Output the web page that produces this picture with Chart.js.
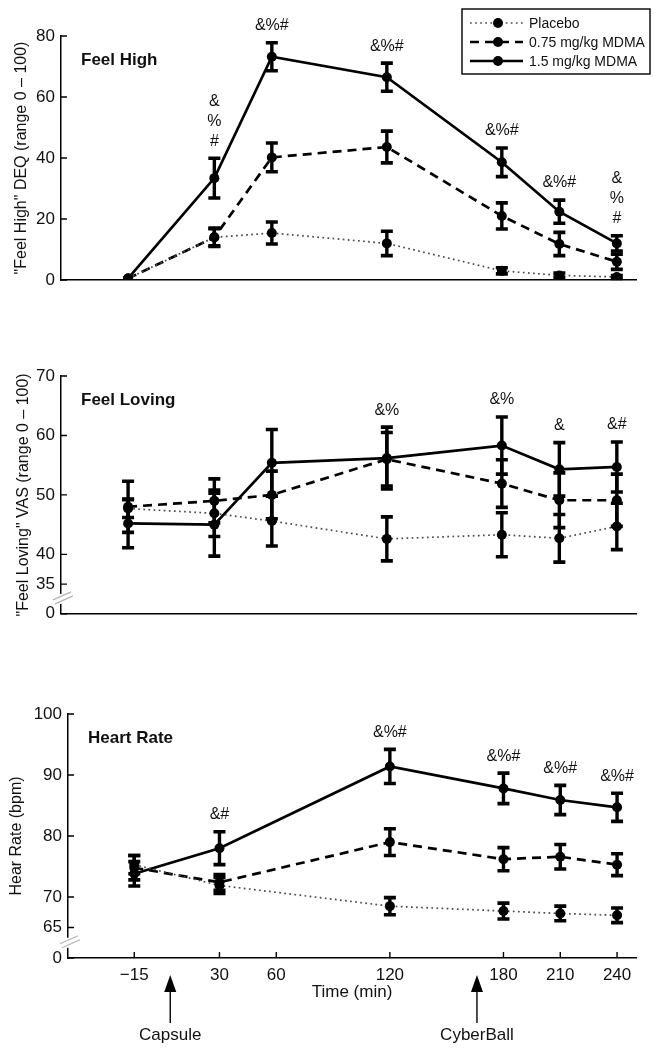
<!DOCTYPE html>
<html>
<head>
<meta charset="utf-8">
<script src="https://cdn.jsdelivr.net/npm/chart.js@4.4.0/dist/chart.umd.min.js"></script>
<style>
  body { margin: 0; background: #fff; }
  #wrap { position: relative; width: 659px; height: 1050px; }
  canvas { position: absolute; left: 0; }
</style>
</head>
<body>
<div id="wrap">
  <canvas id="highChart" width="659" height="300" style="top:0"></canvas>
  <canvas id="loveChart" width="659" height="300" style="top:330px"></canvas>
  <canvas id="hrChart" width="659" height="370" style="top:680px"></canvas>
</div>
<script>
// 측정 시점 (min)
const timesAll = [-15, 30, 60, 120, 180, 210, 240];
const timesHR = [-15, 30, 120, 180, 210, 240];
const xTickValues = [-15, 30, 60, 120, 180, 210, 240];
const groupNames = ['Placebo', '0.75 mg/kg MDMA', '1.5 mg/kg MDMA'];

// Feel High (DEQ)
const highPlacebo = [0.5, 14, 15.4, 12, 3, 1.5, 1];
const highPlaceboErr = [0, 3, 3.6, 4, 1, 0.8, 0.5];
const highLow = [0.5, 14, 40.2, 43.6, 21, 11.8, 6];
const highLowErr = [0, 2.8, 4.7, 5.2, 4.3, 3.8, 2.5];
const highHigh = [0.5, 33.4, 73.2, 66.5, 38.6, 22.4, 12];
const highHighErr = [0, 6.5, 4.6, 4.6, 4.7, 3.8, 2.5];
const highSig = ['', '&\n%\n#', '&%#', '&%#', '&%#', '&%#', '&\n%\n#'];
const highTicks = [0, 20, 40, 60, 80];

// Feel Loving (VAS)
const lovePlacebo = [47.7, 46.9, 45.6, 42.6, 43.3, 42.7, 44.7];
const lovePlaceboErr = [1.5, 3.9, 4.2, 3.7, 3.7, 4, 3.9];
const loveLow = [48, 49, 50, 56, 51.9, 49.1, 49.1];
const loveLowErr = [4.3, 3.7, 4, 4.5, 4, 4.6, 4.4];
const loveHigh = [45.2, 45, 55.4, 56.2, 58.3, 54.3, 54.7];
const loveHighErr = [4.1, 5.3, 5.6, 5.2, 4.8, 4.5, 4.2];
const loveSig = ['', '', '', '&%', '&%', '&', '&#'];
const loveTicks = [30, 35, 40, 50, 60, 70]; // 30 = 축 끊김 아래 "0"

// Heart Rate (bpm)
const hrPlacebo = [75.3, 71.9, 68.5, 67.7, 67.3, 67];
const hrPlaceboErr = [1.5, 1.3, 1.4, 1.3, 1.2, 1.2];
const hrLow = [74.8, 72.4, 79, 76.2, 76.6, 75.3];
const hrLowErr = [2, 1.3, 2.2, 1.9, 2, 1.8];
const hrHigh = [73.8, 78, 91.4, 87.8, 85.9, 84.7];
const hrHighErr = [2, 2.7, 2.8, 2.5, 2.4, 2.3];
const hrSig = ['', '&#', '&%#', '&%#', '&%#', '&%#'];
const hrTicks = [60, 65, 70, 80, 90, 100]; // 60 = 축 끊김 아래 "0"

// 이벤트 화살표 (x축 아래)
const eventLabels = ['Capsule', 'CyberBall'];
const eventTimes = [4, 166];

const FONT = '"Liberation Sans", Arial, Helvetica, sans-serif';
Chart.defaults.font.family = FONT;
Chart.defaults.color = '#111';

// 선 스타일 (placebo / 0.75 / 1.5)
const lineStyles = [
	{ borderColor: '#4a4a4a', borderWidth: 1.7, borderDash: [1.7, 3.4] },
	{ borderColor: '#000', borderWidth: 2.7, borderDash: [9, 6] },
	{ borderColor: '#000', borderWidth: 2.7, borderDash: [] },
];

function makeDatasets(times, series, errs) {
	return series.map((vals, k) => ({
		label: groupNames[k],
		data: vals.map((v, i) => ({ x: times[i], y: v })),
		errors: errs[k],
		...lineStyles[k],
		pointRadius: 5,
		pointBackgroundColor: '#000',
		pointBorderColor: '#000',
		pointBorderWidth: 0,
		tension: 0,
		fill: false,
	}));
}

// 에러바, 유의 표시, 패널 제목, 안쪽 눈금, 축 끊김, 범례, 이벤트 화살표
const figureExtras = {
	id: 'figureExtras',
	afterDatasetsDraw(chart, args, opts) {
		const ctx = chart.ctx;
		const xs = chart.scales.x, ys = chart.scales.y;
		const area = chart.chartArea;
		ctx.save();

		// 에러바
		chart.data.datasets.forEach(ds => {
			ds.data.forEach((p, i) => {
				const e = ds.errors[i];
				if (!e) return;
				const px = xs.getPixelForValue(p.x);
				const top = ys.getPixelForValue(p.y + e);
				const bot = ys.getPixelForValue(p.y - e);
				ctx.strokeStyle = '#000';
				ctx.lineWidth = 3.4;
				ctx.setLineDash([]);
				ctx.beginPath();
				ctx.moveTo(px, top); ctx.lineTo(px, bot);
				ctx.stroke();
				ctx.lineWidth = 3.6;
				ctx.beginPath();
				ctx.moveTo(px - 6, top); ctx.lineTo(px + 6, top);
				ctx.moveTo(px - 6, bot); ctx.lineTo(px + 6, bot);
				ctx.stroke();
			});
		});

		// 유의성 표시 (1.5 mg/kg 에러바 위)
		const hi = chart.data.datasets[2];
		ctx.font = '16px ' + FONT;
		ctx.fillStyle = '#111';
		ctx.textAlign = 'center';
		ctx.textBaseline = 'middle';
		(opts.sig || []).forEach((s, i) => {
			if (!s) return;
			const p = hi.data[i];
			const px = xs.getPixelForValue(p.x);
			const top = ys.getPixelForValue(p.y + hi.errors[i]);
			const lines = s.split('\n');
			lines.forEach((t, j) => {
				ctx.fillText(t, px, top - 17 - (lines.length - 1 - j) * 20);
			});
		});

		// 패널 제목
		ctx.font = 'bold 17px ' + FONT;
		ctx.textAlign = 'left';
		ctx.fillText(opts.title, area.left + 20, area.top + 24);

		// 안쪽 눈금
		ctx.strokeStyle = '#000';
		ctx.lineWidth = 1.4;
		ctx.beginPath();
		ys.ticks.forEach(t => {
			const py = ys.getPixelForValue(t.value);
			ctx.moveTo(area.left, py); ctx.lineTo(area.left + 6, py);
		});
		if (opts.xInnerTicks) {
			xs.ticks.forEach(t => {
				const px = xs.getPixelForValue(t.value);
				ctx.moveTo(px, area.bottom); ctx.lineTo(px, area.bottom - 6);
			});
		}
		ctx.stroke();

		// 축 끊김 표시
		if (opts.axisBreak) {
			const y0 = ys.getPixelForValue(ys.ticks[0].value);
			const y1 = ys.getPixelForValue(ys.ticks[1].value);
			const mid = (y0 + y1) / 2;
			ctx.fillStyle = '#fff';
			ctx.fillRect(area.left - 2, mid - 5, 4, 10);
			ctx.strokeStyle = '#b5b5b5';
			ctx.lineWidth = 1.3;
			ctx.beginPath();
			ctx.moveTo(area.left - 8, mid + 1); ctx.lineTo(area.left + 10, mid - 7);
			ctx.moveTo(area.left - 6, mid + 5); ctx.lineTo(area.left + 12, mid - 3);
			ctx.stroke();
		}

		// 범례
		if (opts.legend) {
			const lx = area.left + 401, ly = 9;
			ctx.strokeStyle = '#000';
			ctx.lineWidth = 1.4;
			ctx.strokeRect(lx, ly, 188, 65);
			ctx.font = '14px ' + FONT;
			ctx.textAlign = 'left';
			chart.data.datasets.forEach((ds, k) => {
				const y = ly + 14 + k * 19;
				ctx.strokeStyle = ds.borderColor;
				ctx.lineWidth = ds.borderWidth;
				ctx.setLineDash(ds.borderDash);
				ctx.beginPath();
				ctx.moveTo(lx + 8, y); ctx.lineTo(lx + 61, y);
				ctx.stroke();
				ctx.setLineDash([]);
				ctx.fillStyle = '#000';
				ctx.beginPath();
				ctx.arc(lx + 36, y, 5, 0, Math.PI * 2);
				ctx.fill();
				ctx.fillStyle = '#111';
				ctx.fillText(ds.label, lx + 67, y + 1);
			});
		}

		// 이벤트 화살표
		if (opts.events) {
			ctx.setLineDash([]);
			ctx.font = '17px ' + FONT;
			ctx.textAlign = 'center';
			eventTimes.forEach((t, i) => {
				const px = xs.getPixelForValue(t);
				const tip = area.bottom + 17;
				ctx.fillStyle = '#000';
				ctx.beginPath();
				ctx.moveTo(px, tip); ctx.lineTo(px - 6, tip + 17); ctx.lineTo(px + 6, tip + 17);
				ctx.closePath();
				ctx.fill();
				ctx.strokeStyle = '#000';
				ctx.lineWidth = 1.4;
				ctx.beginPath();
				ctx.moveTo(px, tip + 15); ctx.lineTo(px, area.bottom + 65);
				ctx.stroke();
				ctx.fillStyle = '#111';
				ctx.fillText(eventLabels[i], px, area.bottom + 77);
			});
		}
		ctx.restore();
	}
};

// 패널 하나 생성
function makePanel(id, p) {
	const ctx = document.getElementById(id).getContext('2d');
	return new Chart(ctx, {
		type: 'line',
		data: { datasets: makeDatasets(p.times, p.series, p.errs) },
		plugins: [figureExtras],
		options: {
			responsive: false,
			animation: false,
			layout: { padding: { top: p.padTop, right: 23, bottom: p.padBottom || 0, left: 0 } },
			scales: {
				x: {
					type: 'linear',
					min: -50,
					max: 250,
					afterBuildTicks: s => { s.ticks = xTickValues.map(v => ({ value: v })); },
					afterFit: s => { s.height = p.xHeight; },
					grid: { display: false, drawTicks: false },
					border: { color: '#000', width: 1.5 },
					ticks: {
						display: p.xLabels,
						padding: 7,
						font: { size: 17 },
						callback: v => (v < 0 ? '\u2212' + Math.abs(v) : v),
					},
					title: {
						display: p.xLabels,
						text: 'Time (min)',
						font: { size: 17 },
						padding: { top: 0, bottom: 4 },
					},
				},
				y: {
					min: p.yTicks[0],
					max: p.yTicks[p.yTicks.length - 1],
					afterBuildTicks: s => { s.ticks = p.yTicks.map(v => ({ value: v })); },
					afterFit: s => { s.width = p.yWidth; },
					grid: { display: false, drawTicks: false },
					border: { color: '#000', width: 1.5 },
					ticks: {
						padding: 6,
						font: { size: 17 },
						callback: function (v) { return v === p.yTicks[0] ? '0' : v; },
					},
					title: {
						display: true,
						text: p.yTitle,
						font: { size: 16 },
						padding: { top: p.titlePad, bottom: 0 },
					},
				},
			},
			plugins: {
				legend: { display: false },
				tooltip: { enabled: false },
				figureExtras: {
					title: p.title,
					sig: p.sig,
					legend: !!p.legend,
					axisBreak: !!p.axisBreak,
					xInnerTicks: !!p.xLabels,
					events: !!p.events,
				},
			},
		},
	});
}

makePanel('highChart', {
	times: timesAll,
	series: [highPlacebo, highLow, highHigh],
	errs: [highPlaceboErr, highLowErr, highHighErr],
	sig: highSig,
	yTicks: highTicks,
	yTitle: '"Feel High" DEQ (range 0 \u2013 100)',
	title: 'Feel High',
	legend: true,
	padTop: 36,
	xHeight: 20,
	yWidth: 61,
	titlePad: 12,
	xLabels: false,
});

makePanel('loveChart', {
	times: timesAll,
	series: [lovePlacebo, loveLow, loveHigh],
	errs: [lovePlaceboErr, loveLowErr, loveHighErr],
	sig: loveSig,
	yTicks: loveTicks,
	yTitle: '"Feel Loving" VAS (range 0 \u2013 100)',
	title: 'Feel Loving',
	axisBreak: true,
	padTop: 46,
	xHeight: 11,
	yWidth: 61,
	titlePad: 14,
	xLabels: false,
});

makePanel('hrChart', {
	times: timesHR,
	series: [hrPlacebo, hrLow, hrHigh],
	errs: [hrPlaceboErr, hrLowErr, hrHighErr],
	sig: hrSig,
	yTicks: hrTicks,
	yTitle: 'Hear Rate (bpm)',
	title: 'Heart Rate',
	axisBreak: true,
	events: true,
	padTop: 34,
	padBottom: 43,
	xHeight: 49,
	yWidth: 68,
	titlePad: 7,
	xLabels: true,
});
</script>
</body>
</html>
